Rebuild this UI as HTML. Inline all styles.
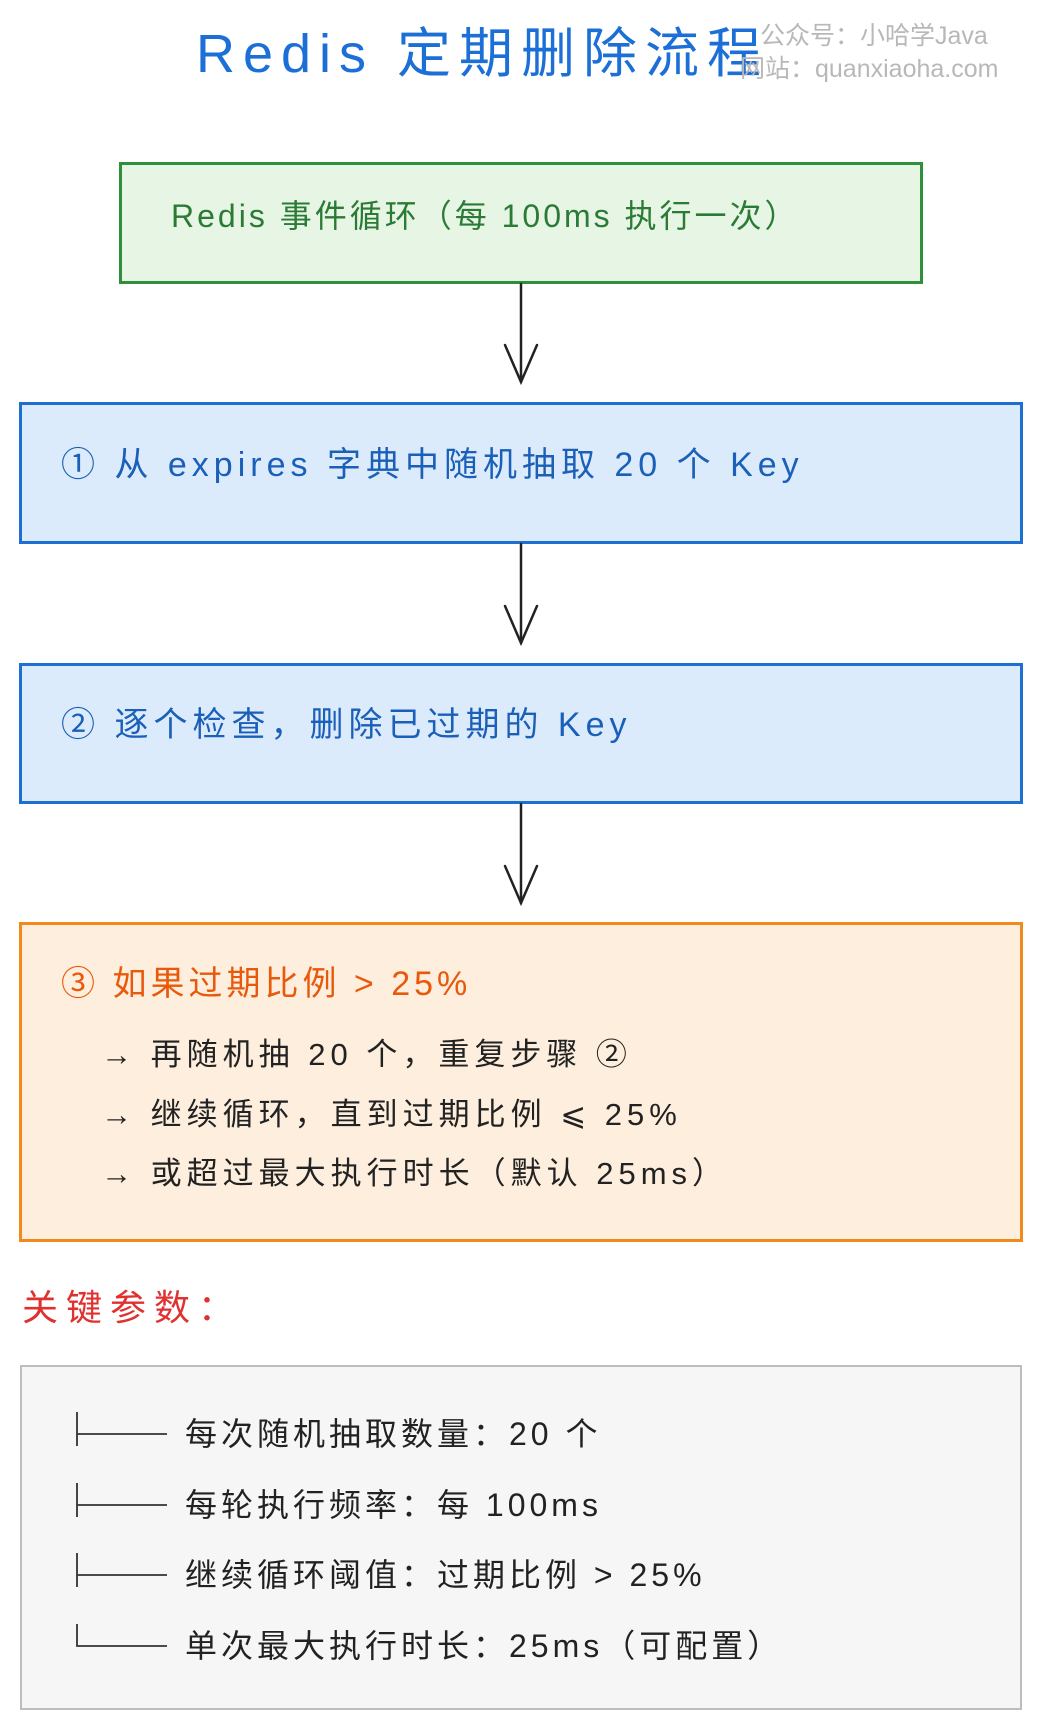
<!DOCTYPE html>
<html><head><meta charset="utf-8"><style>
html,body{margin:0;padding:0;background:#fff;}
body{width:1040px;height:1724px;position:relative;overflow:hidden;font-family:"Liberation Sans","Noto Sans CJK SC",sans-serif;}
.a{position:absolute;white-space:nowrap;line-height:1;}
.box{position:absolute;box-sizing:border-box;border-width:3px;border-style:solid;}
</style></head><body>
<div class="a" style="left:196px;top:27px;font-size:54px;color:#1c6fd6;letter-spacing:8px;">Redis 定期删除流程</div>
<div class="a" style="left:760px;top:24px;font-size:25px;color:#b8b8b8;">公众号：小哈学Java</div>
<div class="a" style="left:740px;top:57px;font-size:25px;color:#b8b8b8;">网站：quanxiaoha.com</div>

<div class="box" style="left:119px;top:162px;width:804px;height:122px;background:#e6f5e4;border-color:#2f8f3a;"></div>
<div class="a" style="left:171px;top:200px;font-size:32px;color:#2b7a35;letter-spacing:3px;">Redis 事件循环（每 100ms 执行一次）</div>

<div class="box" style="left:19px;top:402px;width:1004px;height:142px;background:#dcebfb;border-color:#1d6fd2;"></div>
<div class="a" style="left:61px;top:448px;font-size:34px;color:#1a5fb8;letter-spacing:5px;">① 从 expires 字典中随机抽取 20 个 Key</div>

<div class="box" style="left:19px;top:663px;width:1004px;height:141px;background:#dcebfb;border-color:#1d6fd2;"></div>
<div class="a" style="left:61px;top:708px;font-size:34px;color:#1a5fb8;letter-spacing:5px;">② 逐个检查，删除已过期的 Key</div>

<div class="box" style="left:19px;top:922px;width:1004px;height:320px;background:#fdeedd;border-color:#f08a1a;"></div>
<div class="a" style="left:61px;top:967px;font-size:34px;color:#e8590c;letter-spacing:4px;">③ 如果过期比例 &gt; 25%</div>
<div class="a" style="left:101px;top:1039px;font-size:31px;color:#222;letter-spacing:5px;">→ 再随机抽 20 个，重复步骤 ②</div>
<div class="a" style="left:101px;top:1099px;font-size:31px;color:#222;letter-spacing:5px;">→ 继续循环，直到过期比例 ⩽ 25%</div>
<div class="a" style="left:101px;top:1158px;font-size:31px;color:#222;letter-spacing:5px;">→ 或超过最大执行时长（默认 25ms）</div>

<div class="a" style="left:22px;top:1290px;font-size:36px;color:#e03131;letter-spacing:8px;">关键参数：</div>

<div class="box" style="left:20px;top:1365px;width:1002px;height:345px;background:#f6f6f6;border-color:#bdbdbd;border-width:2px;"></div>
<div class="a" style="left:185px;top:1418px;font-size:32px;color:#222;letter-spacing:4px;">每次随机抽取数量：20 个</div>
<div class="a" style="left:185px;top:1489px;font-size:32px;color:#222;letter-spacing:4px;">每轮执行频率：每 100ms</div>
<div class="a" style="left:185px;top:1559px;font-size:32px;color:#222;letter-spacing:4px;">继续循环阈值：过期比例 &gt; 25%</div>
<div class="a" style="left:185px;top:1630px;font-size:32px;color:#222;letter-spacing:4px;">单次最大执行时长：25ms（可配置）</div>

<svg style="position:absolute;left:0;top:0" width="1040" height="1724">
<g stroke="#222" stroke-width="2.5" fill="none" stroke-linecap="round">
<line x1="521" y1="284" x2="521" y2="382"/><polyline points="505,345 521,382 537,345"/>
<line x1="521" y1="544" x2="521" y2="643"/><polyline points="505,606 521,643 537,606"/>
<line x1="521" y1="804" x2="521" y2="903"/><polyline points="505,866 521,903 537,866"/>
</g>
<g stroke="#333" stroke-width="1.8" fill="none">
<path d="M77,1412 V1446 M77,1434 H167"/>
<path d="M77,1483 V1517 M77,1505 H167"/>
<path d="M77,1553 V1587 M77,1575 H167"/>
<path d="M77,1624 V1646 H167"/>
</g>
</svg>
</body></html>
